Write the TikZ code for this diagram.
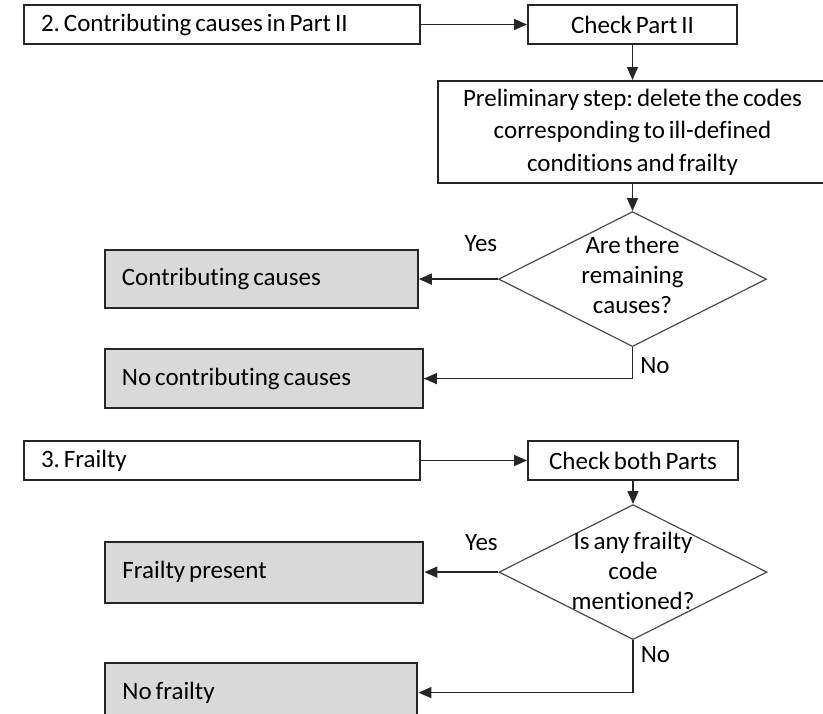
\documentclass[tikz,border=0pt]{standalone}
\usepackage{fontspec}
\setmainfont{Carlito}[Ligatures=NoCommon, WordSpace=0.7]
\usetikzlibrary{positioning,shapes.geometric,arrows.meta}
\definecolor{boxgray}{RGB}{217,217,217}
\frenchspacing

\begin{document}
\begin{tikzpicture}[node distance=17.5pt, font=\fontsize{12.5}{16.2}\selectfont,
    headbox/.style={draw=black!85, line width=1pt, text width=181pt, inner xsep=8.5pt, inner ysep=0pt, minimum height=19.5pt, align=flush left},
    checkbox/.style={draw=black!85, line width=1pt, minimum width=104.5pt, minimum height=19.5pt, inner sep=0pt},
    procbox/.style={draw=black!85, line width=1pt, text width=185pt, inner xsep=5pt, inner ysep=0pt, minimum height=51pt, align=flush center},
    outbox/.style={draw=black!85, line width=1pt, fill=boxgray, inner xsep=8.5pt, inner ysep=0pt, align=flush left},
    decision/.style={diamond, draw=black!70, line width=0.6pt, minimum width=134pt, minimum height=67.5pt, inner sep=0pt},
    qtext/.style={align=center, inner sep=0pt, font=\fontsize{12.5}{15}\selectfont},
    lbl/.style={inner sep=0pt},
    flow/.style={draw=black!85, line width=0.8pt, -{Triangle[length=6.5pt,width=5.5pt]}}]
    \useasboundingbox (0,0) rectangle (411.5pt,-356.5pt);
    \clip (0,0) rectangle (411.5pt,-356.5pt);

    \node[headbox, anchor=north west] (part2) at (11.5pt,-2pt) {2. Contributing causes in Part II};
    \node[checkbox, right=53pt of part2] (check2) {Check Part II};
    \node[procbox, below=of check2] (prelim) {Preliminary step: delete the codes\\corresponding to ill-defined\\conditions and frailty};
    \node[decision, below=13.5pt of prelim] (q1) {};
    \node[qtext, yshift=2pt] (q1txt) at (q1) {Are there\\remaining\\causes?};
    \node[outbox, text width=139.5pt, minimum height=29pt, left=39.5pt of q1] (contrib) {Contributing causes};
    \node[outbox, text width=142pt, minimum height=29.5pt, below=19.5pt of contrib.south west, anchor=north west] (nocontrib) {No contributing causes};
    \node[lbl] (yes1) at ([shift={(-8.5pt,18pt)}]q1.west) {Yes};

    \node[headbox, anchor=north west] (frailty) at (11.5pt,-220pt) {3. Frailty};
    \node[checkbox, minimum width=105pt, right=53pt of frailty] (checkboth) {Check both Parts};
    \node[decision, below=11.5pt of checkboth] (q2) {};
    \node[qtext, yshift=0.5pt] (q2txt) at (q2) {Is any frailty\\code\\mentioned?};
    \node[outbox, text width=142pt, minimum height=30.5pt, left=37pt of q2] (present) {Frailty present};
    \node[outbox, text width=139pt, minimum height=30pt, below=29pt of present.south west, anchor=north west] (nofrailty) {No frailty};
    \node[lbl] (yes2) at ([shift={(-8.5pt,15pt)}]q2.west) {Yes};

    \draw[flow] (part2) -- (check2);
    \draw[flow] (check2) -- (prelim);
    \draw[flow] (prelim) -- (q1);
    \draw[flow] (q1) -- (contrib);
    \draw[flow] (q1.south) |- node[lbl, right, pos=0.3, xshift=3.5pt] (no1) {No} (nocontrib.east);

    \draw[flow] (frailty) -- (checkboth);
    \draw[flow] (checkboth) -- (q2);
    \draw[flow] (q2) -- (present);
    \draw[flow] (q2.south) |- node[lbl, right, pos=0.14, xshift=3.5pt] (no2) {No} (nofrailty.east);
\end{tikzpicture}
\end{document}
